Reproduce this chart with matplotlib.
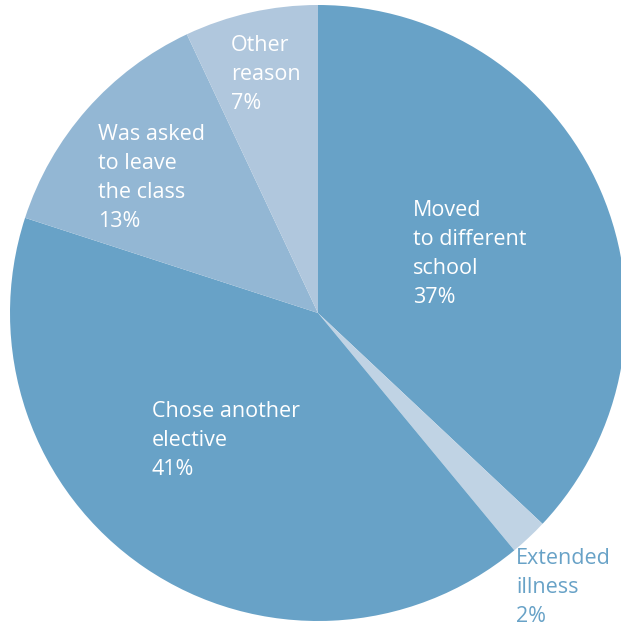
import matplotlib.pyplot as plt

# Reasons for leaving the class
reasons = ['Moved\nto different\nschool', 'Extended\nillness', 'Chose another\nelective',
           'Was asked\nto leave\nthe class', 'Other\nreason']
shares = [37, 2, 41, 13, 7]
colors = ['#68a2c7', '#c0d3e4', '#68a2c7', '#93b7d4', '#b0c7dd']

fig = plt.figure(figsize=(6.21, 6.27), dpi=100)
ax = fig.add_axes([0, 0, 1, 1])
ax.set_aspect('equal')
ax.axis('off')

ax.pie(shares, colors=colors, startangle=90, counterclock=False,
       center=(318, 314), radius=308, wedgeprops=dict(linewidth=0))
ax.set_xlim(0, 621)
ax.set_ylim(0, 627)

# label anchors (top-left of each text block)
label_pos = [(413, 427), (516, 79), (152, 226), (98, 503), (231, 592)]
for name, val, (x, y) in zip(reasons, shares, label_pos):
    txt_color = '#68a2c7' if val == 2 else 'white'
    ax.text(x, y, f'{name}\n{val}%', ha='left', va='top', color=txt_color,
            fontsize=15.5, family='Open Sans', fontweight='medium', linespacing=1.5)

fig.savefig('out.png', dpi=100)
